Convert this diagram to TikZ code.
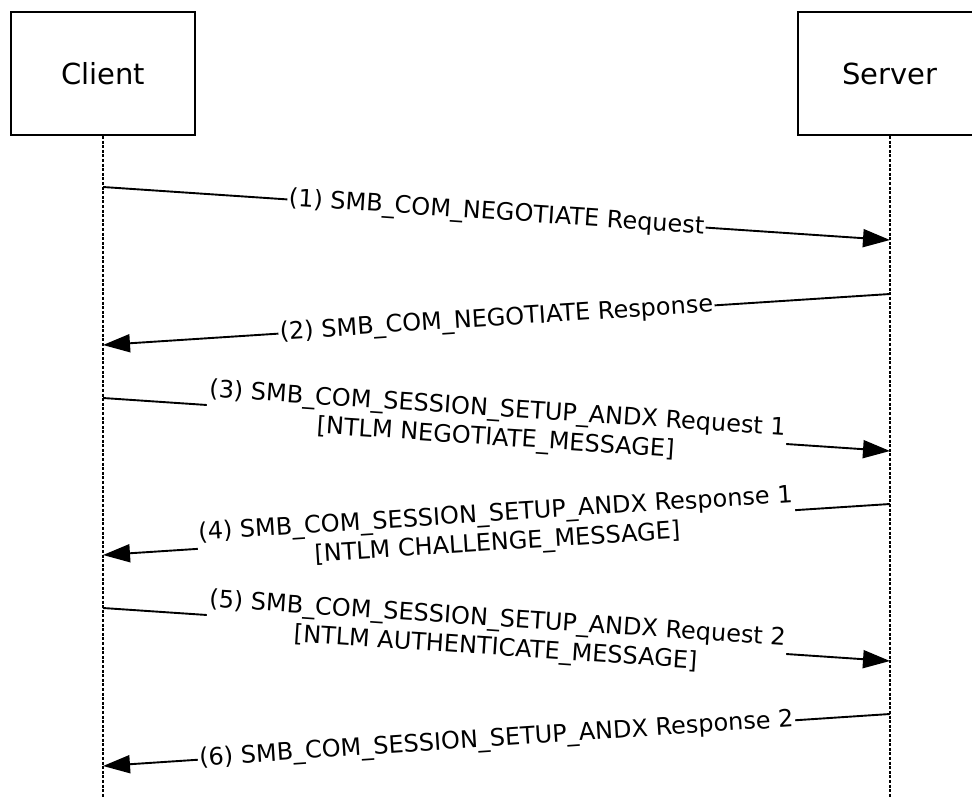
\documentclass[tikz,border=0pt]{standalone}
\usepackage{fontspec}
\setmainfont{DejaVu Sans}
\usetikzlibrary{arrows.meta}
\begin{document}
\begin{tikzpicture}[x=1pt,y=-1pt,
  actor/.style={draw, line width=1.9pt, minimum width=184pt, minimum height=123pt, font=\fontsize{29}{34}\selectfont},
  lifeline/.style={line width=1.5pt, dash pattern=on 3pt off 1.6pt},
  msg/.style={line width=1.9pt, -{Triangle[length=27pt,width=18pt]}},
  lbl/.style={sloped, fill=white, inner sep=1.5pt, align=center, font=\fontsize{24}{29}\selectfont}
]
\useasboundingbox (0,0) rectangle (972,798);
\clip (0,0) rectangle (972,798);
\node[actor] (client) at (103,73.5) {Client};
\node[actor] (server) at (890,73.5) {Server};
\coordinate (cend) at (103,798);
\coordinate (send) at (890,798);
\draw[lifeline] (client.south) -- (cend);
\draw[lifeline] (server.south) -- (send);

\coordinate (c1) at (103,187);
\coordinate (s1) at (890,240);
\coordinate (s2) at (890,294);
\coordinate (c2) at (103,345);
\coordinate (c3) at (103,398);
\coordinate (s3) at (890,451);
\coordinate (s4) at (890,504);
\coordinate (c4) at (103,555);
\coordinate (c5) at (103,608);
\coordinate (s5) at (890,661);
\coordinate (s6) at (890,714);
\coordinate (c6) at (103,766);

\draw[msg] (c1) -- node[lbl] (m1) {(1) SMB\_COM\_NEGOTIATE Request} (s1);
\draw[msg] (s2) -- node[lbl] (m2) {(2) SMB\_COM\_NEGOTIATE Response} (c2);
\draw[msg] (c3) -- node[lbl] (m3) {(3) SMB\_COM\_SESSION\_SETUP\_ANDX Request 1\\{}[NTLM NEGOTIATE\_MESSAGE]} (s3);
\draw[msg] (s4) -- node[lbl] (m4) {(4) SMB\_COM\_SESSION\_SETUP\_ANDX Response 1\\{}[NTLM CHALLENGE\_MESSAGE]} (c4);
\draw[msg] (c5) -- node[lbl] (m5) {(5) SMB\_COM\_SESSION\_SETUP\_ANDX Request 2\\{}[NTLM AUTHENTICATE\_MESSAGE]} (s5);
\draw[msg] (s6) -- node[lbl] (m6) {(6) SMB\_COM\_SESSION\_SETUP\_ANDX Response 2} (c6);
\end{tikzpicture}
\end{document}
